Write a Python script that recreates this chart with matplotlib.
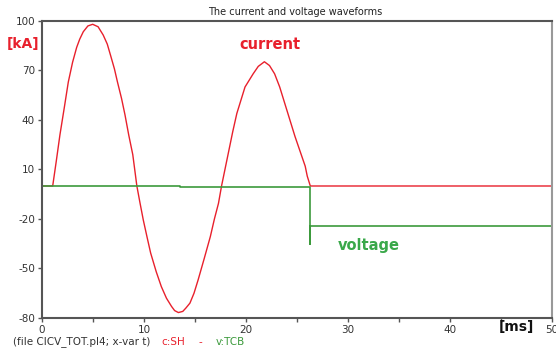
import matplotlib.pyplot as plt

plt.rcParams["axes.unicode_minus"] = False

# current waveform [kA]
t_cur = [0, 1.05, 1.4, 1.76, 2.2, 2.58, 3.0, 3.4, 3.7, 4.05, 4.5, 4.97, 5.5, 6.0, 6.4,
         6.73, 7.1, 7.4, 7.8, 8.14, 8.5, 8.9, 9.3,
         9.6, 9.93, 10.3, 10.65, 11.2, 11.7, 12.2, 12.7, 13.0, 13.37, 13.8, 14.1, 14.5,
         14.9, 15.3, 15.9, 16.5, 16.9, 17.3, 17.6,
         17.8, 18.1, 18.4, 18.7, 19.1, 19.5, 19.9, 20.3, 20.7, 21.2, 21.8, 22.3, 22.8,
         23.3, 23.8, 24.3, 24.8, 25.3, 25.8, 26.0, 26.3, 50]
i_cur = [0, 0, 15, 31, 48, 63, 75, 84, 89, 93.5, 97, 98, 96.5, 91.5, 86,
         79, 71, 63, 53, 43, 31, 19, 0,
         -10, -20.6, -31, -40.6, -52, -61, -68, -73, -75.5, -76.7, -76, -74, -71,
         -65, -57, -44, -30.7, -20, -10.5, 0,
         6, 15, 24, 33, 44, 52, 60, 64, 68, 72.5, 75.3, 73, 68,
         60, 50, 40, 30, 21, 12, 6, 0, 0]

# voltage waveform
t_volt = [0, 13.5, 13.5, 26.3, 26.3, 26.3, 26.4, 50]
u_volt = [0, 0, -0.8, -0.8, -35, -24, -24, -24]

x_ticks = [0, 10, 20, 30, 40, 50]
y_ticks = [100, 70, 40, 10, -20, -50, -80]

red = "#e8202c"
green = "#3c9a3c"
axcol = "#555555"

fig = plt.figure(figsize=(5.56, 3.54), dpi=100)
ax = fig.add_axes([0.0755, 0.1017, 0.9175, 0.839])

ax.plot(t_cur, i_cur, color=red, lw=1.0)
ax.plot(t_volt, u_volt, color=green, lw=1.2)

ax.set_xlim(0, 50)
ax.set_ylim(-80, 100)
ax.set_xticks(x_ticks)
ax.set_xticks([5, 15, 25, 35, 45], minor=True)
ax.set_yticks(y_ticks)
ax.tick_params(axis="both", direction="out", length=3, width=1, color=axcol,
               labelsize=7.5, labelcolor="#333333", pad=2)
ax.tick_params(axis="x", which="minor", direction="out", length=3, width=1, color=axcol)

for side in ["left", "bottom", "top"]:
    ax.spines[side].set_color(axcol)
    ax.spines[side].set_linewidth(1.5)
ax.spines["right"].set_color("#999999")
ax.spines["right"].set_linewidth(1.5)

fig.text(0.53, 0.966, "The current and voltage waveforms", ha="center", va="center",
         fontsize=7, color="#222222")
fig.text(0.012, 0.876, "[kA]", ha="left", va="center", fontsize=10, fontweight="bold", color=red)
fig.text(0.485, 0.873, "current", ha="center", va="center", fontsize=10.5, fontweight="bold", color=red)
fig.text(0.663, 0.307, "voltage", ha="center", va="center", fontsize=10.5, fontweight="bold",
         color="#3aa84a")
fig.text(0.928, 0.076, "[ms]", ha="center", va="center", fontsize=10, fontweight="bold", color="#111111")

fig.text(0.023, 0.034, "(file CICV_TOT.pl4; x-var t)", ha="left", va="center", fontsize=7.5,
         color="#333333")
fig.text(0.29, 0.034, "c:SH", ha="left", va="center", fontsize=7.5, color=red)
fig.text(0.357, 0.034, "-", ha="left", va="center", fontsize=7.5, color=red)
fig.text(0.388, 0.034, "v:TCB", ha="left", va="center", fontsize=7.5, color=green)

fig.savefig("out.png", dpi=100)
